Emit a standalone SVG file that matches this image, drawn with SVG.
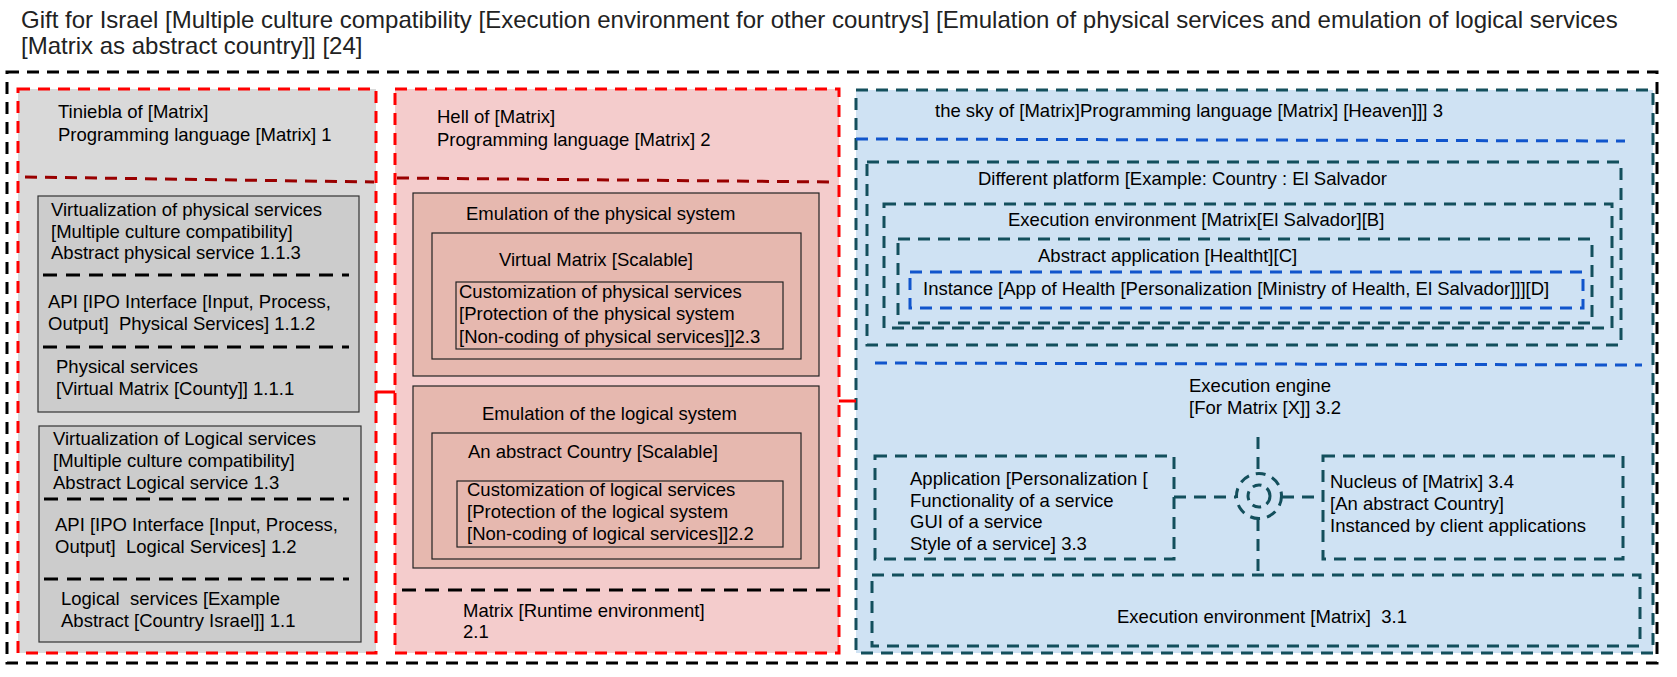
<svg xmlns="http://www.w3.org/2000/svg" width="1677" height="677" viewBox="0 0 1677 677">
<defs>
<style>
text{font-family:"Liberation Sans",Arial,sans-serif;font-size:18.5px;fill:#000;white-space:pre}
.title{font-size:24px;fill:#222}
.outer{fill:none;stroke:#000;stroke-width:3;stroke-dasharray:12 8}
.redp{stroke:#ff0000;stroke-width:3;stroke-dasharray:12 8}
.divred{stroke:#990000;stroke-width:3;stroke-dasharray:12 8;fill:none}
.bdash{stroke:#000;stroke-width:3;stroke-dasharray:14 9;fill:none}
.greybox{fill:#cccccc;stroke:#333;stroke-width:1.2}
.pinkbox{fill:#e6b8af;stroke:#222;stroke-width:1.2}
.teal{fill:none;stroke:#134f5c;stroke-width:3;stroke-dasharray:12 8}
.blue{fill:none;stroke:#1155cc;stroke-width:3;stroke-dasharray:12 8}
.conn{fill:none;stroke:#ff0000;stroke-width:3}
.tconn{fill:none;stroke:#134f5c;stroke-width:3;stroke-dasharray:12 8}
</style>
</defs>
<rect x="0" y="0" width="1677" height="677" fill="#fff"/>
<g id="title">
<text class="title" x="21" y="28">Gift for Israel [Multiple culture compatibility [Execution environment for other countrys] [Emulation of physical services and emulation of logical services</text>
<text class="title" x="21" y="54">[Matrix as abstract country]] [24]</text>
</g>
<g id="outer-frame">
<rect class="outer" x="7" y="72" width="1650" height="591"/>
</g>

<g id="panel-1">
<rect class="redp" x="18" y="89" width="358" height="564" fill="#d9d9d9"/>
<text x="58" y="118"><tspan x="58">Tiniebla of [Matrix]</tspan><tspan x="58" dy="23">Programming language [Matrix] 1</tspan></text>
<line class="divred" x1="25" y1="177" x2="374" y2="182"/>
</g>
<g id="box-1-1">
<rect class="greybox" x="38" y="196" width="321" height="216"/>
<text x="51" y="216"><tspan x="51">Virtualization of physical services</tspan><tspan x="51" dy="21.5">[Multiple culture compatibility]</tspan><tspan x="51" dy="21.5">Abstract physical service 1.1.3</tspan></text>
<line class="bdash" x1="43" y1="275" x2="349" y2="275"/>
<text x="48" y="308"><tspan x="48">API [IPO Interface [Input, Process,</tspan><tspan x="48" dy="21.5">Output]  Physical Services] 1.1.2</tspan></text>
<line class="bdash" x1="43" y1="347" x2="349" y2="347"/>
<text x="56" y="373"><tspan x="56">Physical services</tspan><tspan x="56" dy="22">[Virtual Matrix [County]] 1.1.1</tspan></text>
</g>
<g id="box-1-2">
<rect class="greybox" x="39" y="426" width="322" height="216"/>
<text x="53" y="445"><tspan x="53">Virtualization of Logical services</tspan><tspan x="53" dy="22">[Multiple culture compatibility]</tspan><tspan x="53" dy="22">Abstract Logical service 1.3</tspan></text>
<line class="bdash" x1="44" y1="499" x2="349" y2="499"/>
<text x="55" y="531"><tspan x="55">API [IPO Interface [Input, Process,</tspan><tspan x="55" dy="22">Output]  Logical Services] 1.2</tspan></text>
<line class="bdash" x1="44" y1="579" x2="349" y2="579"/>
<text x="61" y="605"><tspan x="61">Logical  services [Example</tspan><tspan x="61" dy="22">Abstract [Country Israel]] 1.1</tspan></text>
</g>

<g id="panel-2">
<rect class="redp" x="395" y="89" width="444" height="564" fill="#f4cccc"/>
<text x="437" y="123"><tspan x="437">Hell of [Matrix]</tspan><tspan x="437" dy="23">Programming language [Matrix] 2</tspan></text>
<line class="divred" x1="397" y1="178" x2="837" y2="182"/>
<line class="bdash" x1="402" y1="590" x2="838" y2="590"/>
<text x="463" y="617"><tspan x="463">Matrix [Runtime environment]</tspan><tspan x="463" dy="21">2.1</tspan></text>
</g>
<g id="box-2-3">
<rect class="pinkbox" x="413" y="193" width="406" height="183"/>
<text x="466" y="220">Emulation of the physical system</text>
<rect class="pinkbox" x="432" y="233" width="369" height="126"/>
<text x="499" y="266">Virtual Matrix [Scalable]</text>
<rect class="pinkbox" x="456" y="282" width="327" height="67"/>
<text x="459" y="298"><tspan x="459">Customization of physical services</tspan><tspan x="459" dy="22">[Protection of the physical system</tspan><tspan x="459" dy="22.5">[Non-coding of physical services]]2.3</tspan></text>
</g>
<g id="box-2-2">
<rect class="pinkbox" x="413" y="386" width="406" height="182"/>
<text x="482" y="420">Emulation of the logical system</text>
<rect class="pinkbox" x="432" y="433" width="369" height="126"/>
<text x="468" y="458">An abstract Country [Scalable]</text>
<rect class="pinkbox" x="457" y="481" width="326" height="66"/>
<text x="467" y="496"><tspan x="467">Customization of logical services</tspan><tspan x="467" dy="22">[Protection of the logical system</tspan><tspan x="467" dy="22">[Non-coding of logical services]]2.2</tspan></text>
</g>

<g id="panel-3">
<rect x="856" y="90" width="797" height="563" fill="#cfe2f3" stroke="#134f5c" stroke-width="3" stroke-dasharray="12 8"/>
<text x="935" y="117">the sky of [Matrix]Programming language [Matrix] [Heaven]]] 3</text>
<line class="blue" x1="856" y1="139" x2="1625" y2="141"/>
<line class="blue" x1="875" y1="363" x2="1642" y2="365"/>
<text x="1189" y="392"><tspan x="1189">Execution engine</tspan><tspan x="1189" dy="21.5">[For Matrix [X]] 3.2</tspan></text>
</g>
<g id="platform">
<rect class="teal" x="867" y="162" width="754" height="183"/>
<text x="978" y="185">Different platform [Example: Country : El Salvador</text>
</g>
<g id="exec-env-b">
<rect class="teal" x="884" y="204" width="728" height="124"/>
<text x="1008" y="226">Execution environment [Matrix[El Salvador][B]</text>
</g>
<g id="abstract-app">
<rect class="teal" x="898" y="239" width="694" height="84"/>
<text x="1038" y="262">Abstract application [Healtht][C]</text>
</g>
<g id="instance">
<rect class="blue" x="910" y="272" width="673" height="36"/>
<text x="923" y="295">Instance [App of Health [Personalization [Ministry of Health, El Salvador]]][D]</text>
</g>
<g id="application-3-3">
<rect class="teal" x="875" y="456" width="299" height="103"/>
<text x="910" y="485"><tspan x="910">Application [Personalization [</tspan><tspan x="910" dy="21.7">Functionality of a service</tspan><tspan x="910" dy="21.7">GUI of a service</tspan><tspan x="910" dy="21.7">Style of a service] 3.3</tspan></text>
</g>
<g id="nucleus-3-4">
<rect class="teal" x="1323" y="456" width="300" height="103"/>
<text x="1330" y="488"><tspan x="1330">Nucleus of [Matrix] 3.4</tspan><tspan x="1330" dy="22">[An abstract Country]</tspan><tspan x="1330" dy="22">Instanced by client applications</tspan></text>
</g>
<g id="exec-env-3-1">
<rect class="teal" x="872" y="575" width="768" height="71"/>
<text x="1117" y="623">Execution environment [Matrix]  3.1</text>
</g>
<g id="junction">
<circle cx="1259" cy="496" r="22.5" fill="none" stroke="#134f5c" stroke-width="3" stroke-dasharray="10 7"/>
<circle cx="1259" cy="496" r="11" fill="none" stroke="#134f5c" stroke-width="3" stroke-dasharray="9 6"/>
</g>

<g id="connectors">
<line class="conn" x1="376" y1="392" x2="395" y2="392"/>
<line class="conn" x1="839" y1="401" x2="856" y2="401"/>
<line class="tconn" x1="1258" y1="437" x2="1258" y2="473"/>
<line class="tconn" x1="1174" y1="497" x2="1236" y2="497"/>
<line class="tconn" x1="1282" y1="497" x2="1323" y2="497"/>
<line class="tconn" x1="1258" y1="519" x2="1258" y2="575"/>
</g>
</svg>
